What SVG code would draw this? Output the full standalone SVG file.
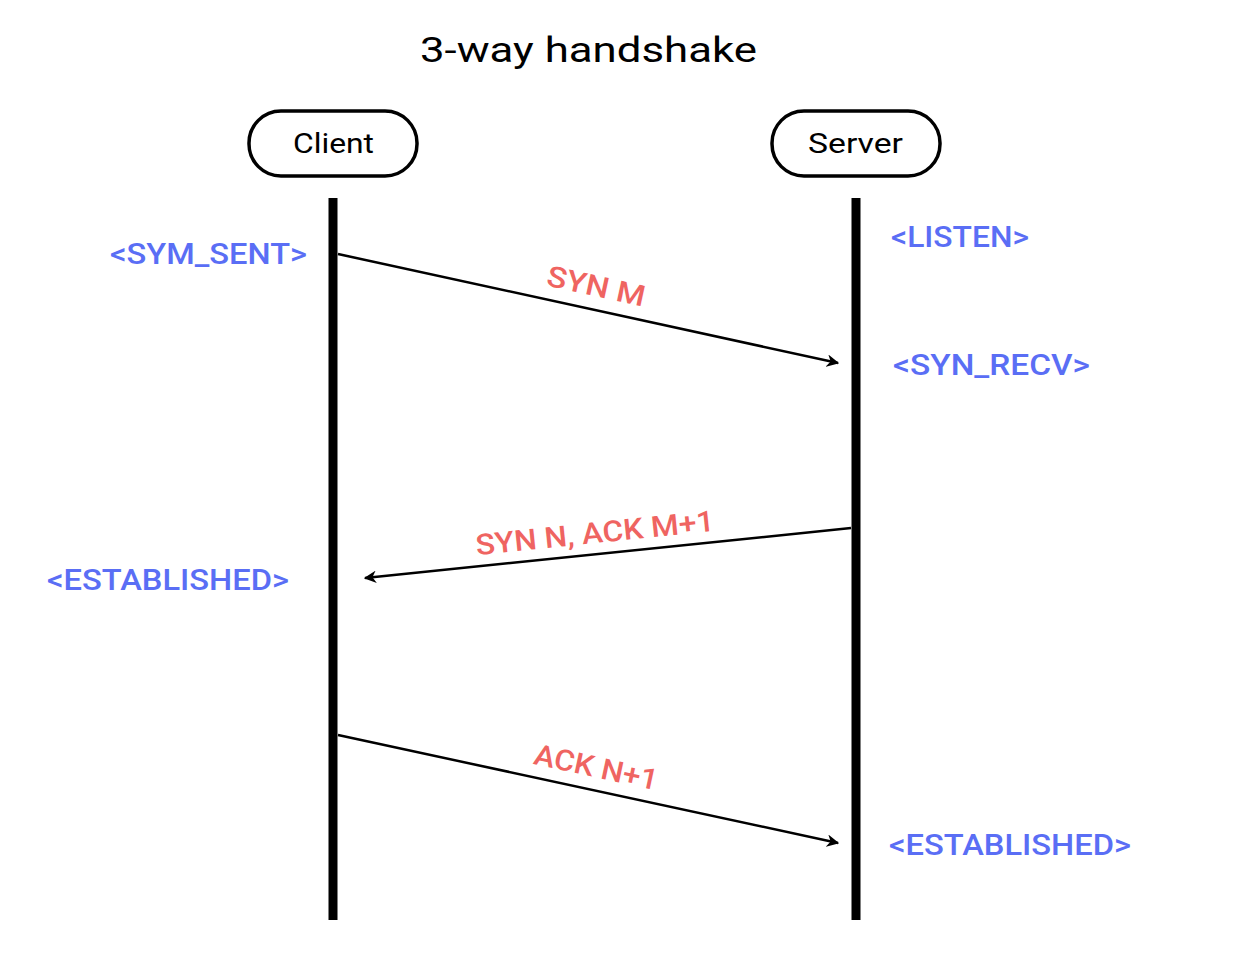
<svg xmlns="http://www.w3.org/2000/svg" width="1240" height="960" viewBox="0 0 1240 960">
<style>
.title{font-family:Roboto,"Liberation Sans",sans-serif;font-weight:400;font-size:35px;fill:#000}
.node rect{fill:#fff;stroke:#000;stroke-width:3.5}
.node text{font-family:Roboto,"Liberation Sans",sans-serif;font-weight:400;font-size:27px;fill:#000}
.life{stroke:#000;stroke-width:9}
.msg{stroke:#000;stroke-width:2.5;fill:none;marker-end:url(#ah)}
.lbl{font-family:Roboto,"Liberation Sans",sans-serif;font-weight:500;font-size:29px;fill:#ef6461;text-anchor:middle}
.st{font-family:Roboto,"Liberation Sans",sans-serif;font-weight:500;font-size:29px;fill:#5a6ef5}
</style>
<defs>
<marker id="ah" viewBox="0 0 10 10" refX="9" refY="5" markerWidth="5" markerHeight="5" orient="auto" markerUnits="strokeWidth">
<path d="M0,0 L10,5 L0,10 L3,5 Z" fill="#000"/>
</marker>
</defs>
<rect width="1240" height="960" fill="#fff"/>
<text class="title" x="420" y="62" textLength="337" lengthAdjust="spacingAndGlyphs">3-way handshake</text>
<g id="client" class="node">
<rect x="249" y="111" width="168" height="65" rx="32"/>
<text x="293" y="153" textLength="81" lengthAdjust="spacingAndGlyphs">Client</text>
</g>
<g id="server" class="node">
<rect x="772" y="111" width="168" height="65" rx="32"/>
<text x="808" y="153" textLength="95" lengthAdjust="spacingAndGlyphs">Server</text>
</g>
<g id="lifelines">
<line class="life" x1="333" y1="198" x2="333" y2="920"/>
<line class="life" x1="856" y1="198" x2="856" y2="920"/>
</g>
<g id="states">
<text class="st" x="110" y="264" textLength="197" lengthAdjust="spacingAndGlyphs">&lt;SYM_SENT&gt;</text>
<text class="st" x="891" y="247" textLength="138" lengthAdjust="spacingAndGlyphs">&lt;LISTEN&gt;</text>
<text class="st" x="893" y="375" textLength="197" lengthAdjust="spacingAndGlyphs">&lt;SYN_RECV&gt;</text>
<text class="st" x="47" y="590" textLength="242" lengthAdjust="spacingAndGlyphs">&lt;ESTABLISHED&gt;</text>
<text class="st" x="889" y="855" textLength="242" lengthAdjust="spacingAndGlyphs">&lt;ESTABLISHED&gt;</text>
</g>
<g id="connectors">
<line class="msg" x1="338" y1="254" x2="838" y2="363"/>
<line class="msg" x1="851" y1="528" x2="365" y2="578"/>
<line class="msg" x1="338" y1="735" x2="838" y2="843"/>
</g>
<g id="labels">
<text class="lbl" transform="translate(594,296) rotate(12.3)" textLength="100" lengthAdjust="spacingAndGlyphs">SYN M</text>
<text class="lbl" transform="translate(596,543) rotate(-5.9)" textLength="240" lengthAdjust="spacingAndGlyphs">SYN N, ACK M+1</text>
<text class="lbl" transform="translate(594,777) rotate(12.2)" textLength="126" lengthAdjust="spacingAndGlyphs">ACK N+1</text>
</g>
</svg>
